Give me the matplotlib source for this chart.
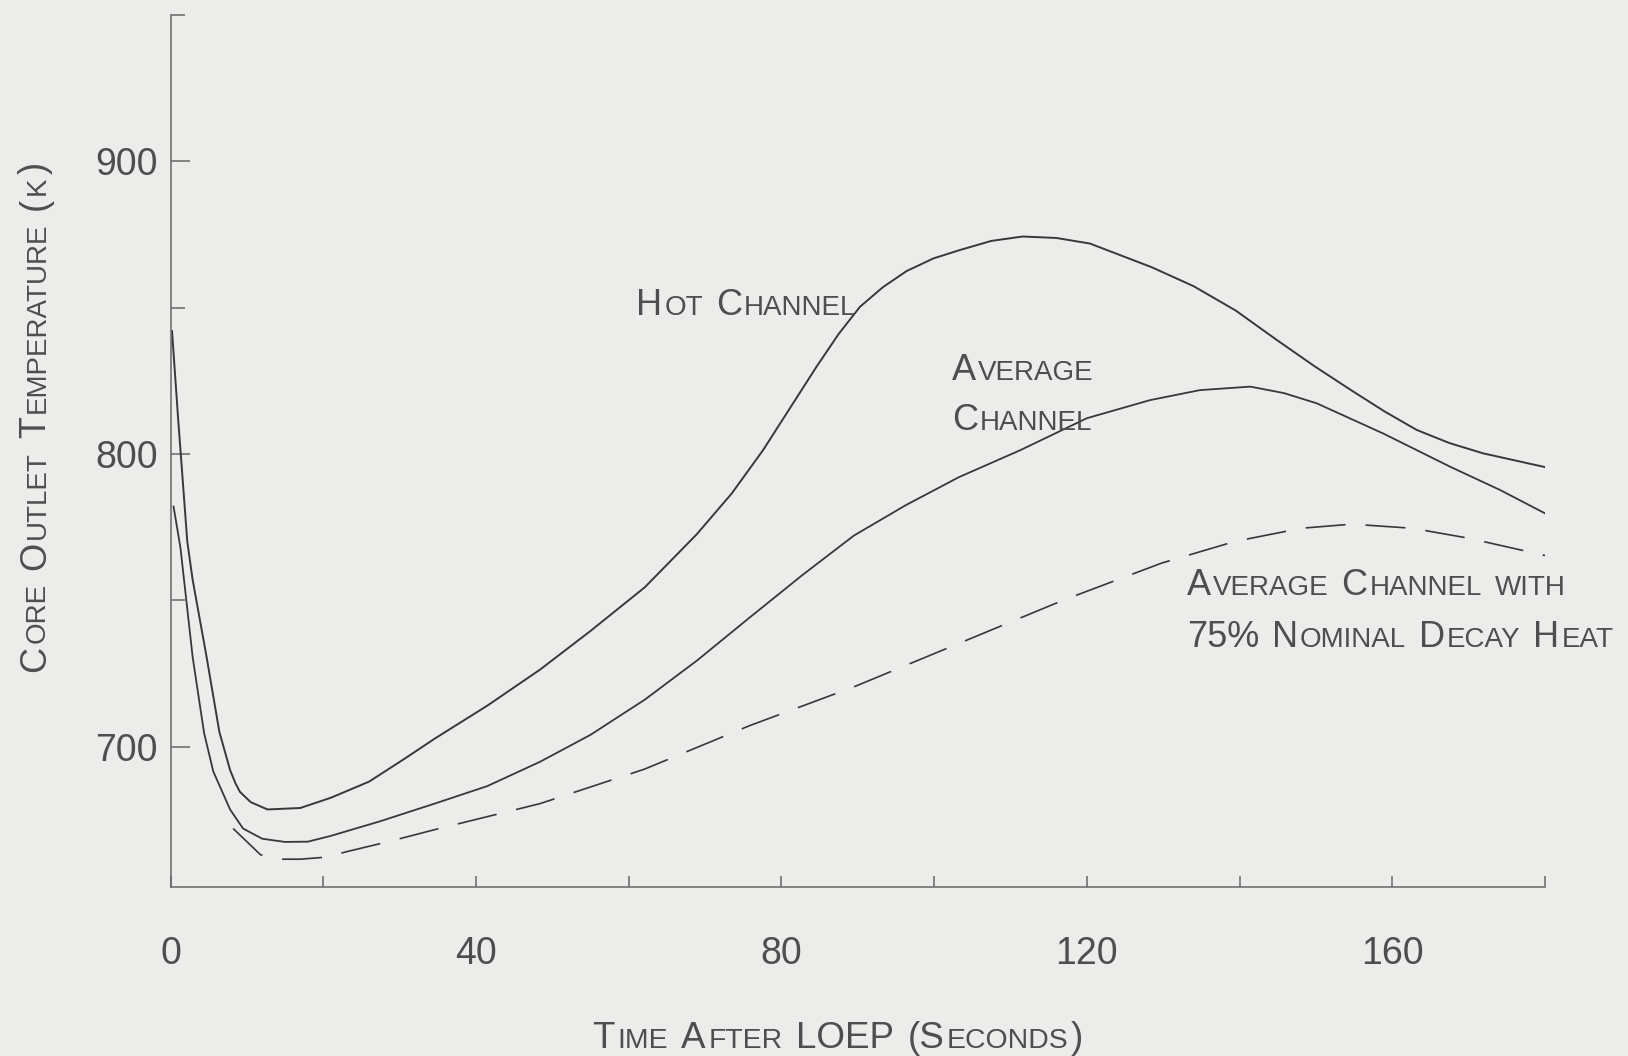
import matplotlib
matplotlib.use('Agg')
import matplotlib.pyplot as plt
from matplotlib.font_manager import FontProperties, fontManager
from matplotlib.transforms import IdentityTransform

# Core outlet temperature after loss of electrical power
hot_t = [0.2, 1.0, 2.2, 2.9, 4.7, 6.4, 7.8, 8.5, 9.1, 10.5, 12.7, 17.0, 21.0, 26.0,
         30.4, 34.6, 41.5, 48.4, 55.0, 62.1, 68.9, 73.5, 77.6, 84.6, 87.5, 90.3, 93.3,
         96.4, 99.9, 103.4, 107.5, 111.6, 116.0, 120.4, 128.5, 134.0, 139.5, 144.9,
         149.8, 154.6, 159.0, 163.2, 167.5, 171.9, 180.0]
hot_T = [842, 812, 770, 757, 731, 705, 692, 687.5, 684.5, 681, 678.5, 679, 682.5, 688,
         695.4, 702.7, 714, 726.3, 739.5, 754.4, 772.5, 786.5, 801.3, 829.8, 841, 850.3,
         857, 862.5, 866.8, 869.7, 872.8, 874.3, 873.8, 871.9, 863.8, 857.3, 849,
         838.9, 830, 821.8, 814.5, 808.2, 803.7, 800.2, 795.5]

avg_t = [0.4, 1.3, 2.9, 4.4, 5.6, 7.8, 9.5, 12.0, 15.0, 18.0, 20.9, 27.5, 34.6, 41.5,
         48.4, 55.0, 62.1, 69.0, 75.8, 82.7, 89.5, 96.3, 103.2, 111.3, 120.0, 128.3,
         134.8, 141.4, 145.8, 150.1, 158.8, 167.6, 174.1, 180.0]
avg_T = [782, 768, 730.6, 704.6, 691.5, 678.5, 672, 668.5, 667.4, 667.5, 669.4, 674.5,
         680.5, 686.5, 694.8, 704, 716, 729.5, 744, 758.5, 772.1, 782.5, 792, 801.3,
         812.2, 818.4, 821.8, 823, 820.8, 817.3, 807, 795.6, 787.7, 779.7]

# average channel with 75% nominal decay heat
low_t = [8.2, 11.8, 14.2, 17.0, 20.4, 23.1, 28.4, 34.6, 48.4, 62.1, 75.8, 89.5, 103.2,
         116.9, 129.8, 139.4, 148.1, 154.7, 162.6, 170.0, 180.0]
low_T = [672, 663, 661.5, 661.5, 662.2, 664.1, 667.4, 671.6, 680.5, 692.3, 707.1, 720.4,
         735.2, 750, 762.7, 770.1, 774.6, 776, 774.6, 771.2, 765.3]

x_major = [0, 40, 80, 120, 160]
x_minor = [20, 60, 100, 140, 180]
y_major = [700, 800, 900]
y_minor = [750, 850, 950]

W, H, DPI = 1628, 1056, 100
BG = '#ececea'
INK = '#383838'
TXT = '#4e4e4e'
AXC = '#666666'

names = {f.name for f in fontManager.ttflist}
FONT = 'Liberation Sans Narrow' if 'Liberation Sans Narrow' in names else 'Liberation Sans'

fig = plt.figure(figsize=(W / DPI, H / DPI), dpi=DPI, facecolor=BG)
ax = fig.add_axes([170.5 / W, (H - 887) / H, (1545 - 170.5) / W, (887 - 15) / H])
ax.set_facecolor(BG)

ax.plot(hot_t, hot_T, color=INK, lw=1.4, solid_joinstyle='round')
ax.plot(avg_t, avg_T, color=INK, lw=1.3, solid_joinstyle='round')
ax.plot(low_t, low_T, color=INK, lw=1.2, linestyle=(0, (24, 12)))

ax.set_xlim(0, 180)
ax.set_ylim(652, 950)
for side in ['top', 'right']:
    ax.spines[side].set_visible(False)
for side in ['left', 'bottom']:
    ax.spines[side].set_color(AXC)
    ax.spines[side].set_linewidth(1.1)

ax.set_xticks(x_major)
ax.set_xticks(x_minor, minor=True)
ax.set_yticks(y_major)
ax.set_yticks(y_minor, minor=True)
ax.tick_params(axis='x', which='both', direction='in', length=8, width=1.1, color=AXC)
ax.tick_params(axis='x', which='major', pad=35, labelsize=27, labelcolor=TXT)
ax.tick_params(axis='y', which='major', direction='in', length=14, width=1.1, color=AXC,
               pad=9, labelsize=27, labelcolor=TXT)
ax.tick_params(axis='y', which='minor', direction='in', length=10, width=1.1, color=AXC)
for lab in ax.get_xticklabels() + ax.get_yticklabels():
    lab.set_fontfamily(FONT)

renderer = fig.canvas.get_renderer()


def small_caps(x, y, s, size=26, ratio=0.77, rotation=0, gap=2.0):
    """Write s in small capitals starting at pixel (x, y) on the baseline."""
    big = FontProperties(family=FONT, size=size)
    small = FontProperties(family=FONT, size=size * ratio)
    space = size * 0.30 * DPI / 72
    runs = []
    for ch in s:
        if ch == ' ':
            runs.append([' ', None])
            continue
        low = ch.islower()
        if runs and runs[-1][1] == low:
            runs[-1][0] += ch.upper()
        else:
            runs.append([ch.upper(), low])
    pos = 0.0
    for text, low in runs:
        if low is None:
            pos += space
            continue
        prop = small if low else big
        w = renderer.get_text_width_height_descent(text, prop, ismath=False)[0]
        px, py = (x, y + pos) if rotation else (x + pos, y)
        fig.text(px, py, text, transform=IdentityTransform(), fontproperties=prop,
                 color=TXT, ha='left', va='baseline', rotation=rotation,
                 rotation_mode='anchor')
        pos += w + gap


def label_at(t, T, s, **kw):
    px, py = ax.transData.transform((t, T))
    small_caps(px, py, s, **kw)


label_at(61.0, 847.5, 'Hot Channel')
label_at(102.3, 825.2, 'Average')
label_at(102.3, 808.2, 'Channel')
label_at(133.1, 751.8, 'Average Channel with')
label_at(133.1, 734.1, '75% Nominal Decay Heat')

# axis titles
small_caps(592, H - 1048, 'Time After LOEP (Seconds)', size=26.5, gap=2.5)
small_caps(45, H - 672, 'Core Outlet Temperature (k)', rotation=90, gap=2.5)

fig.savefig('out.png', dpi=DPI, facecolor=BG)
